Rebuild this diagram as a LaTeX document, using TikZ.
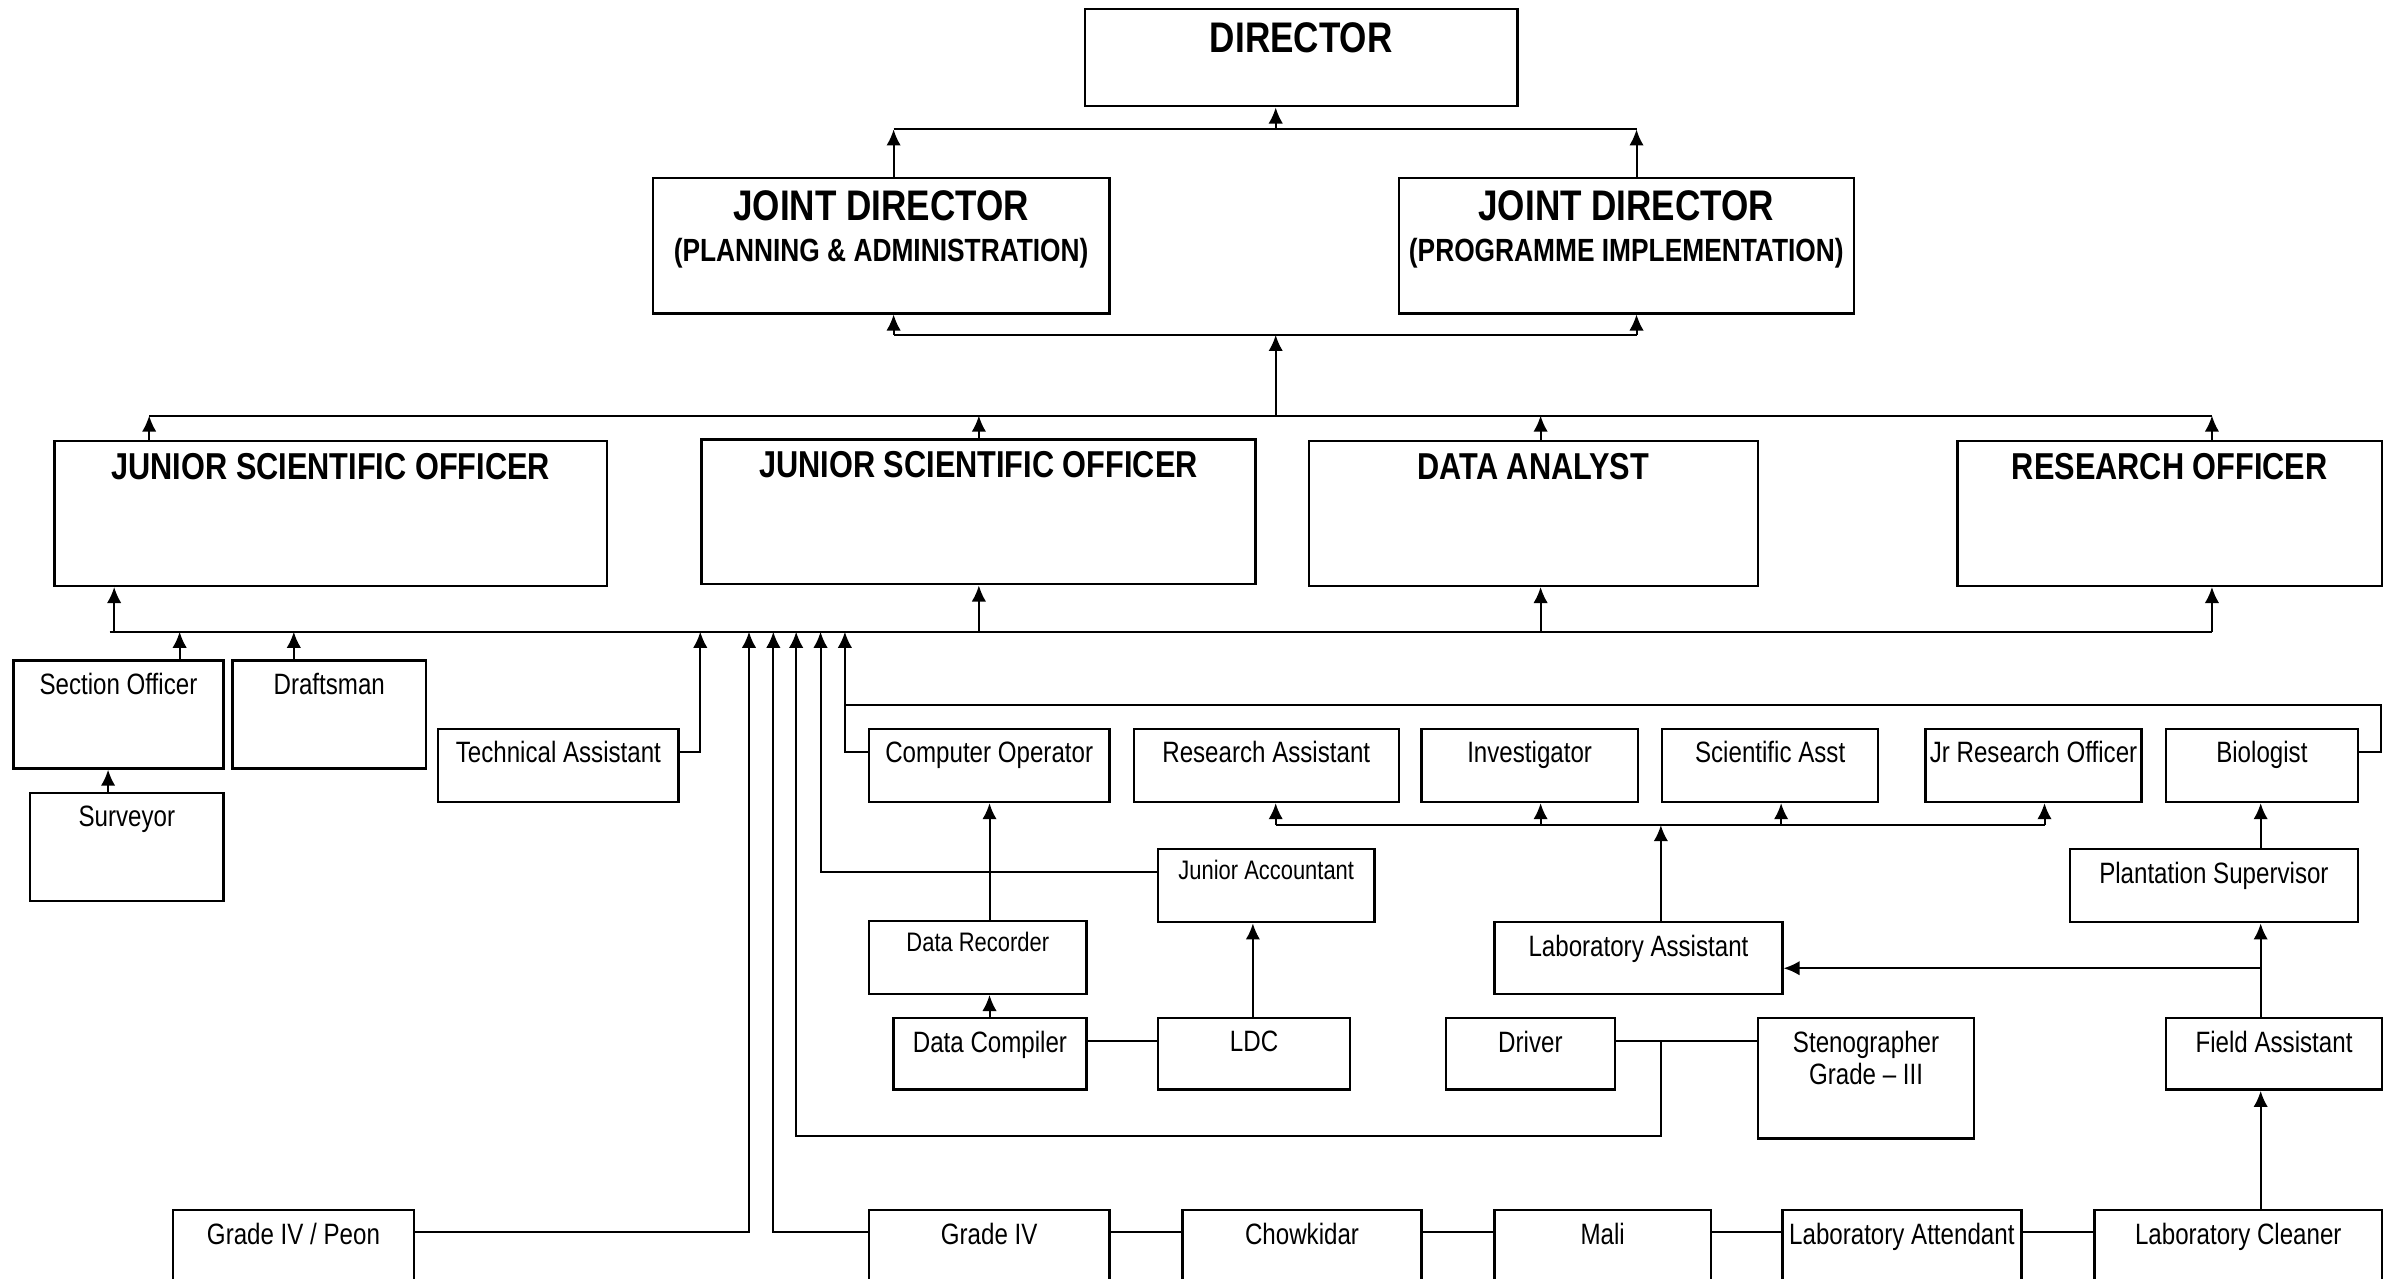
\documentclass[tikz,border=0pt]{standalone}
\usepackage{fontspec}
\setmainfont{Liberation Sans}[FakeStretch=0.82]
\usetikzlibrary{arrows.meta}

\newcommand{\txtbig}{\fontsize{16}{14}\selectfont\bfseries}
\newcommand{\txtmid}{\fontsize{14}{16}\selectfont\bfseries}
\newcommand{\txtsub}{\fontsize{12}{14}\selectfont\bfseries}
\newcommand{\txtnorm}{\fontsize{11}{12.1}\selectfont}
\newcommand{\txtsmall}{\fontsize{10}{12}\selectfont}

\begin{document}
\begin{tikzpicture}[x=0.02cm, y=-0.02cm, line width=.75pt, >={Latex[length=6pt, width=5.4pt]},
	post/.style 2 args={draw, line width=.9pt, anchor=north west, inner sep=0pt, minimum width=#1*0.02cm, minimum height=#2*0.02cm},
	lbl/.style={anchor=north, inner sep=0pt, yshift=-0.17cm, align=center, font=\txtnorm},
	big/.style={lbl, font=\txtbig, yshift=-0.02cm},
	mid/.style={lbl, font=\txtmid, yshift=0.01cm},
	small/.style={lbl, font=\txtsmall, yshift=0.02cm}]
		\useasboundingbox (0,0) rectangle (1568,840);
		\clip (0,0) rectangle (1568,840);

		% top levels
		\node[post={284}{64}, label={[big]north:DIRECTOR}] (dir) at (712,5) {};
		\node[post={300}{89}, label={[big, yshift=0.02cm]north:JOINT DIRECTOR\\[1.5pt]{\txtsub (PLANNING \& ADMINISTRATION)}}] (jd1) at (428,116) {};
		\node[post={299}{89}, label={[big, yshift=0.02cm]north:JOINT DIRECTOR\\[1.5pt]{\txtsub (PROGRAMME IMPLEMENTATION)}}] (jd2) at (918,116) {};

		\node[post={363}{95}, label={[mid]north:JUNIOR SCIENTIFIC OFFICER}] (jso1) at (35,289) {};
		\node[post={364}{95}, label={[mid]north:JUNIOR SCIENTIFIC OFFICER}] (jso2) at (460,288) {};
		\node[post={295}{95}, label={[mid]north:DATA ANALYST}] (da) at (859,289) {};
		\node[post={279}{95}, label={[mid]north:RESEARCH OFFICER}] (ro) at (1285,289) {};

		% staff
		\node[post={138}{71}, label={[lbl]north:Section Officer}] (so) at (8,433) {};
		\node[post={127}{71}, label={[lbl]north:Draftsman}] (dm) at (152,433) {};
		\node[post={127}{71}, label={[lbl]north:Surveyor}] (sv) at (19,520) {};
		\node[post={158}{48}, label={[lbl]north:Technical Assistant}] (ta) at (287,478) {};

		\node[post={158}{48}, label={[lbl]north:Computer Operator}] (co) at (570,478) {};
		\node[post={174}{48}, label={[lbl]north:Research Assistant}] (ra) at (744,478) {};
		\node[post={142}{48}, label={[lbl]north:Investigator}] (inv) at (933,478) {};
		\node[post={142}{48}, label={[lbl]north:Scientific Asst}] (sa) at (1091,478) {};
		\node[post={142}{48}, label={[lbl]north:Jr Research Officer}] (jro) at (1264,478) {};
		\node[post={126}{48}, label={[lbl]north:Biologist}] (bio) at (1422,478) {};

		\node[post={142}{48}, label={[small]north:Junior Accountant}] (ja) at (760,557) {};
		\node[post={189}{48}, label={[lbl]north:Plantation Supervisor}] (ps) at (1359,557) {};
		\node[post={143}{48}, label={[small]north:Data Recorder}] (dr) at (570,604) {};
		\node[post={189}{47}, label={[lbl]north:Laboratory Assistant}] (la) at (981,605) {};

		\node[post={127}{47}, label={[lbl]north:Data Compiler}] (dc) at (586,668) {};
		\node[post={126}{47}, label={[lbl]north:LDC}] (ldc) at (760,668) {};
		\node[post={111}{47}, label={[lbl]north:Driver}] (drv) at (949,668) {};
		\node[post={142}{79}, label={[lbl]north:Stenographer\\Grade – III}] (steno) at (1154,668) {};
		\node[post={142}{47}, label={[lbl]north:Field Assistant}] (fa) at (1422,668) {};

		% bottom row, cut by the page edge
		\node[post={158}{80}, label={[lbl]north:Grade IV / Peon}] (g4p) at (113,794) {};
		\node[post={158}{80}, label={[lbl]north:Grade IV}] (g4) at (570,794) {};
		\node[post={157}{80}, label={[lbl]north:Chowkidar}] (chk) at (776,794) {};
		\node[post={142}{80}, label={[lbl]north:Mali}] (mali) at (981,794) {};
		\node[post={157}{80}, label={[lbl]north:Laboratory Attendant}] (latt) at (1170,794) {};
		\node[post={189}{80}, label={[lbl]north:Laboratory Cleaner}] (lcl) at (1375,794) {};

		% buses
		\coordinate (u1) at (587,85);
		\coordinate (u2) at (1075,85);
		\coordinate (u0) at (838,85);
		\draw[->] (jd1.north -| u1) -- (u1);
		\draw[->] (jd2.north -| u2) -- (u2);
		\draw (u1) -- (u2);
		\draw[->] (u0) -- (dir.south -| u0);

		\coordinate (m1) at (587,220);
		\coordinate (m2) at (1075,220);
		\coordinate (m0) at (838,220);
		\coordinate (n0) at (838,273);
		\draw (m1) -- (m2);
		\draw[->] (m1) -- (jd1.south -| m1);
		\draw[->] (m2) -- (jd2.south -| m2);
		\draw[->] (n0) -- (m0);

		\coordinate (n1) at (98,273);
		\coordinate (n2) at (1453,273);
		\draw (n1) -- (n2);
		\foreach \p/\x in {jso1/98, jso2/643, da/1012, ro/1453}
			\draw[->] (\p.north -| \x,0) -- (\x,273);

		\coordinate (s1) at (72,415);
		\coordinate (s2) at (1453,415);
		\draw (s1) -- (s2);
		\foreach \p/\x in {jso1/75, jso2/643, da/1012, ro/1453}
			\draw[->] (\x,415) -- (\p.south -| \x,0);

		\draw[->] (so.north -| 118,0) -- (118,415);
		\draw[->] (dm.north -| 193,0) -- (193,415);
		\draw[->] (sv.north -| 71,0) -- (so.south -| 71,0);
		\draw[->] (ta.east |- 0,494) -| (460,415);
		\draw[->] (g4p.east |- 0,809) -| (492,415);
		\draw[->] (g4.west |- 0,809) -| (508,415);
		\draw (drv.east |- 0,684) -- (steno.west |- 0,684);
		\draw[->] (1091,684) -- (1091,746) -| (523,415);
		\draw[->] (ja.west |- 0,573) -| (539,415);
		\draw[->] (co.west |- 0,494) -| (555,415);
		\draw (bio.east |- 0,494) -| (1564,463) -- (555,463);

		\draw (838,542) -- (1343,542);
		\foreach \p/\x in {ra/838, inv/1012, sa/1170, jro/1343}
			\draw[->] (\x,542) -- (\p.south -| \x,0);
		\draw[->] (la.north -| 1091,0) -- (1091,542);

		\draw[->] (dr.north -| 650,0) -- (co.south -| 650,0);
		\draw[->] (dc.north -| 650,0) -- (dr.south -| 650,0);
		\draw[->] (ldc.north -| 823,0) -- (ja.south -| 823,0);
		\draw (dc.east |- 0,684) -- (ldc.west |- 0,684);

		\draw[->] (ps.north -| 1485,0) -- (bio.south -| 1485,0);
		\draw[->] (fa.north -| 1485,0) -- (ps.south -| 1485,0);
		\draw[->] (1485,636) -- (la.east |- 0,636);
		\draw[->] (lcl.north -| 1485,0) -- (fa.south -| 1485,0);

		\foreach \a/\b in {g4/chk, chk/mali, mali/latt, latt/lcl}
			\draw (\a.east |- 0,809) -- (\b.west |- 0,809);
	\end{tikzpicture}
\end{document}
